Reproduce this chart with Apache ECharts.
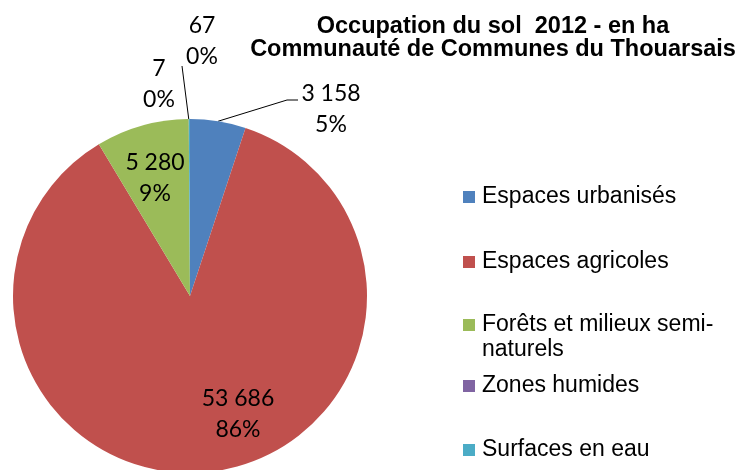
<!DOCTYPE html>
<html>
<head>
<meta charset="utf-8">
<script src="https://cdn.jsdelivr.net/npm/echarts@6/dist/echarts.min.js"></script>
<style>html,body{margin:0;padding:0;background:#fff}#c{width:745px;height:470px}</style>
</head>
<body>
<div id="c"></div>
<script>
const categories = ['Espaces urbanisés', 'Espaces agricoles', 'Forêts et milieux semi-naturels', 'Zones humides', 'Surfaces en eau'];
const values = [3158, 53686, 5280, 7, 67];
const colors = ['#4F81BD', '#C0504D', '#9BBB59', '#8064A2', '#4BACC6'];
const titleLines = ['Occupation du sol  2012 - en ha', 'Communauté de Communes du Thouarsais'];

// label placement (layout only)
const labelPos = [
  {x: 331, y: 109, line: [[287, 100], [298, 100]]},
  {x: 238, y: 414},
  {x: 155, y: 178},
  {x: 159, y: 84, line: [[182, 66], [182, 66]]},
  {x: 202, y: 41}
];
const legendY = [197, 262, 325, 386, 450];

function fmt(v) { return String(v).replace(/\B(?=(\d{3})+(?!\d))/g, ' '); }

const chart = echarts.init(document.getElementById('c'), null, {renderer: 'canvas'});
const legendFont = {fontFamily: 'Liberation Sans', fontSize: 23, color: '#000', lineHeight: 24, padding: [0, 0, 0, 2]};

const legends = categories.map((name, i) => ({
  orient: 'vertical', left: 463, top: legendY[i] - 12, padding: 0,
  icon: 'rect', itemWidth: 12, itemHeight: 12,
  data: [name], selectedMode: false,
  textStyle: legendFont,
  formatter: n => (n === 'Forêts et milieux semi-naturels' ? 'Forêts et milieux semi-' : n)
}));

chart.setOption({
  animation: false,
  color: colors,
  title: {
    text: titleLines.join('\n'),
    left: 493, top: 15, textAlign: 'center', padding: 0,
    textStyle: {fontFamily: 'Liberation Sans', fontWeight: 'bold', fontSize: 23.5, lineHeight: 23, color: '#000'}
  },
  legend: legends,
  graphic: [{
    type: 'text', left: 482, top: 338,
    style: {text: 'naturels', fontFamily: 'Liberation Sans', fontSize: 23, fill: '#000'}
  }],
  series: [{
    type: 'pie',
    center: [190, 296],
    radius: 177,
    startAngle: 90,
    clockwise: true,
    avoidLabelOverlap: false,
    percentPrecision: 0,
    emphasis: {scale: false},
    itemStyle: {borderWidth: 0},
    label: {
      show: true, position: 'outside',
      fontFamily: 'Lato', fontSize: 23, lineHeight: 31, color: '#000',
      formatter: p => fmt(p.value) + '\n' + p.percent + '%'
    },
    labelLine: {show: false, lineStyle: {color: '#000', width: 1}},
    labelLayout: function (p) {
      const L = labelPos[p.dataIndex];
      const out = {x: L.x, y: L.y, align: 'center', verticalAlign: 'middle'};
      if (L.line && p.labelLinePoints) {
        out.labelLinePoints = [p.labelLinePoints[0], L.line[0], L.line[1]];
      }
      return out;
    },
    data: categories.map((name, i) => ({
      name: name, value: values[i],
      labelLine: {show: !!labelPos[i].line}
    }))
  }]
});
</script>
</body>
</html>
